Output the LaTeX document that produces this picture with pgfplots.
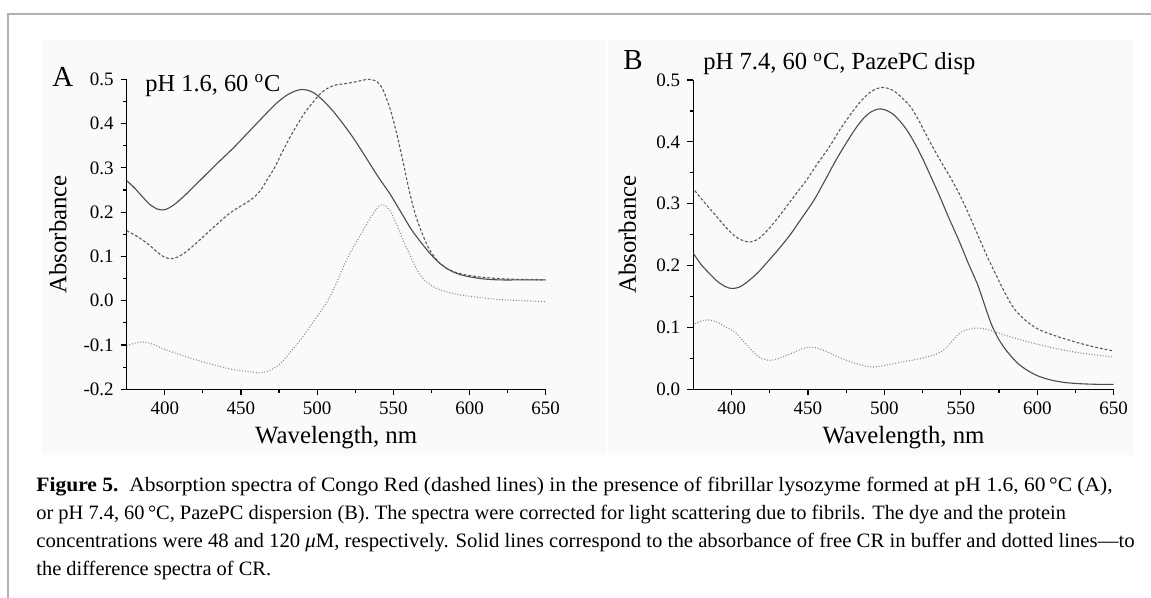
\documentclass[border=0pt]{standalone}
\usepackage{fontspec}
\setmainfont{Liberation Serif}
\usepackage{graphicx}
\usepackage{pgfplots}
\usepackage{pgfplotstable}
\pgfplotsset{compat=1.18}

\pgfplotstableread{
x y
375 0.271
380 0.255
385 0.236
390 0.218
395 0.207
398 0.205
402 0.208
408 0.222
415 0.244
425 0.278
435 0.312
445 0.345
455 0.381
465 0.417
473 0.445
480 0.464
486 0.474
490 0.477
494 0.475
498 0.469
503 0.455
510 0.430
518 0.395
525 0.361
533 0.318
540 0.280
548 0.240
555 0.200
562 0.160
569 0.128
575 0.103
581 0.083
587 0.069
593 0.060
600 0.054
610 0.049
620 0.047
635 0.047
650 0.047
}\Asolid

\pgfplotstableread{
x y
375 0.158
382 0.145
389 0.128
395 0.110
400 0.098
404 0.095
408 0.098
413 0.108
420 0.128
427 0.150
435 0.175
442 0.196
448 0.210
453 0.220
458 0.232
463 0.250
468 0.278
472 0.300
477 0.335
482 0.368
487 0.398
492 0.425
497 0.447
502 0.467
507 0.480
512 0.487
518 0.490
525 0.494
530 0.498
534 0.500
538 0.497
541 0.489
544 0.470
548 0.432
552 0.380
556 0.320
560 0.255
564 0.200
568 0.160
573 0.120
579 0.090
585 0.073
591 0.064
598 0.058
606 0.054
615 0.051
625 0.049
635 0.048
650 0.047
}\Adashed

\pgfplotstableread{
x y
375 -0.102
380 -0.096
386 -0.093
392 -0.098
400 -0.110
410 -0.122
420 -0.133
430 -0.143
440 -0.152
448 -0.157
455 -0.160
462 -0.163
467 -0.160
472 -0.152
477 -0.138
482 -0.118
487 -0.097
492 -0.075
497 -0.050
502 -0.025
507 0.000
512 0.035
517 0.075
522 0.110
527 0.140
532 0.170
537 0.198
541 0.215
544 0.216
548 0.203
552 0.173
556 0.140
560 0.110
564 0.080
568 0.056
572 0.042
577 0.030
585 0.020
594 0.013
605 0.008
618 0.003
635 0.000
650 -0.002
}\Adotted

\pgfplotstableread{
x y
375 0.220
380 0.202
386 0.186
391 0.174
396 0.166
400 0.163
405 0.165
410 0.173
417 0.188
425 0.210
432 0.230
439 0.252
446 0.277
454 0.306
461 0.337
468 0.369
475 0.398
481 0.421
486 0.437
491 0.448
496 0.453
500 0.452
505 0.446
510 0.434
515 0.418
520 0.397
525 0.373
530 0.346
536 0.313
542 0.278
549 0.239
555 0.203
561 0.169
566 0.133
570 0.105
575 0.080
580 0.062
586 0.045
592 0.033
600 0.022
609 0.015
618 0.011
628 0.009
640 0.008
650 0.008
}\Bsolid

\pgfplotstableread{
x y
376 0.321
383 0.300
390 0.280
397 0.260
403 0.246
408 0.240
412 0.238
416 0.241
420 0.248
427 0.267
434 0.289
441 0.312
449 0.338
456 0.364
464 0.392
471 0.420
478 0.445
484 0.464
490 0.479
495 0.486
499 0.488
503 0.486
507 0.481
512 0.470
517 0.457
522 0.437
527 0.413
532 0.390
537 0.368
543 0.343
549 0.316
555 0.284
561 0.250
567 0.216
573 0.185
579 0.155
585 0.130
592 0.112
600 0.098
610 0.088
620 0.080
630 0.073
640 0.067
650 0.062
}\Bdashed

\pgfplotstableread{
x y
376 0.106
381 0.111
386 0.112
391 0.108
396 0.101
402 0.093
407 0.080
412 0.066
417 0.054
422 0.048
426 0.047
431 0.050
436 0.055
441 0.060
447 0.066
452 0.068
457 0.066
463 0.060
469 0.053
475 0.047
481 0.042
487 0.038
493 0.036
499 0.038
505 0.041
511 0.044
518 0.047
524 0.050
530 0.054
535 0.058
540 0.066
545 0.080
550 0.092
555 0.097
560 0.099
565 0.098
571 0.094
577 0.089
585 0.083
595 0.076
605 0.070
618 0.063
630 0.058
640 0.055
650 0.052
}\Bdotted

\pgfplotsset{
  panel/.style={
    scale only axis,
    axis x line*=bottom,
    axis y line*=left,
    tick align=outside,
    major tick length=3pt,
    minor tick length=1.8pt,
    minor x tick num=1,
    minor y tick num=1,
    xmin=375, xmax=650,
    xtick={400,450,500,550,600,650},
    /pgf/number format/assume math mode=true,
    tick label style={font=\fontsize{9.5}{10}\selectfont},
    yticklabel style={/pgf/number format/.cd, fixed, fixed zerofill, precision=1, assume math mode=true},
    xticklabel style={/pgf/number format/.cd, assume math mode=true},
    axis line style={line width=0.6pt},
    every tick/.style={black, line width=0.6pt},
    label style={font=\fontsize{12.4}{14}\selectfont},
    xlabel={Wavelength, nm},
    ylabel={Absorbance},
    xlabel style={at={(axis description cs:0.5,-0.155)}, anchor=center},
    clip=false,
  },
  solidc/.style={black!70, line width=0.55pt, smooth},
  dashc/.style={black!65, line width=0.55pt, smooth, dash pattern=on 1.4pt off 1pt},
  dotc/.style={black!45, line width=0.55pt, smooth, dash pattern=on 0.5pt off 0.9pt},
}

\begin{document}
\begin{tikzpicture}
\path[use as bounding box] (0,0) rectangle (575.5pt,299pt);
\fill[black!2] (20.5pt,71.5pt) rectangle (303.5pt,279pt);
\fill[black!2] (304pt,71.5pt) rectangle (566.5pt,279pt);
\draw[black!30, line width=0.8pt] (4pt,0pt) -- (4pt,292pt) -- (575.5pt,292pt);

\begin{axis}[panel,
  at={(63.35pt,104.35pt)}, anchor=south west,
  width=209.5pt, height=155pt,
  ymin=-0.2, ymax=0.5,
  ytick={-0.2,-0.1,0,0.1,0.2,0.3,0.4,0.5},
  ylabel style={at={(axis description cs:-0.164,0.5)}, anchor=center, rotate=0},
]
\addplot[solidc] table {\Asolid};
\addplot[dashc] table {\Adashed};
\addplot[dotc] table {\Adotted};
\end{axis}

\begin{axis}[panel,
  at={(346.65pt,104.35pt)}, anchor=south west,
  width=210.2pt, height=154.65pt,
  ymin=0, ymax=0.5,
  ytick={0,0.1,0.2,0.3,0.4,0.5},
  ylabel style={at={(axis description cs:-0.157,0.5)}, anchor=center, rotate=0},
]
\addplot[solidc] table {\Bsolid};
\addplot[dashc] table {\Bdashed};
\addplot[dotc] table {\Bdotted};
\end{axis}

\node[anchor=base west, inner sep=0pt, font=\fontsize{14.5}{16}\selectfont] at (26pt,255.5pt) {A};
\node[anchor=base west, inner sep=0pt, font=\fontsize{12.2}{13}\selectfont] at (72.5pt,253.2pt) {pH 1.6, 60 \textsuperscript{o}C};
\node[anchor=base west, inner sep=0pt, font=\fontsize{14.5}{16}\selectfont] at (311.5pt,264pt) {B};
\node[anchor=base west, inner sep=0pt, font=\fontsize{12.3}{13}\selectfont] at (351.5pt,264pt) {pH 7.4, 60 \textsuperscript{o}C, PazePC disp};

\begin{scope}[every node/.style={anchor=base west, inner sep=0pt, font=\fontsize{10.2}{12}\selectfont}]
\node at (18pt,53pt) {\scalebox{1.055}[1]{\textbf{Figure 5.}\hspace{0.5em}Absorption spectra of Congo Red (dashed lines) in the presence of fibrillar lysozyme formed at pH 1.6, 60\,°C (A),}};
\node at (18pt,39pt) {or pH 7.4, 60\,°C, PazePC dispersion (B). The spectra were corrected for light scattering due to fibrils. The dye and the protein};
\node at (18pt,25pt) {\scalebox{1.017}[1]{concentrations were 48 and 120 {\itshape μ}M, respectively. Solid lines correspond to the absorbance of free CR in buffer and dotted lines—to}};
\node at (18pt,11pt) {the difference spectra of CR.};
\end{scope}
\end{tikzpicture}
\end{document}
